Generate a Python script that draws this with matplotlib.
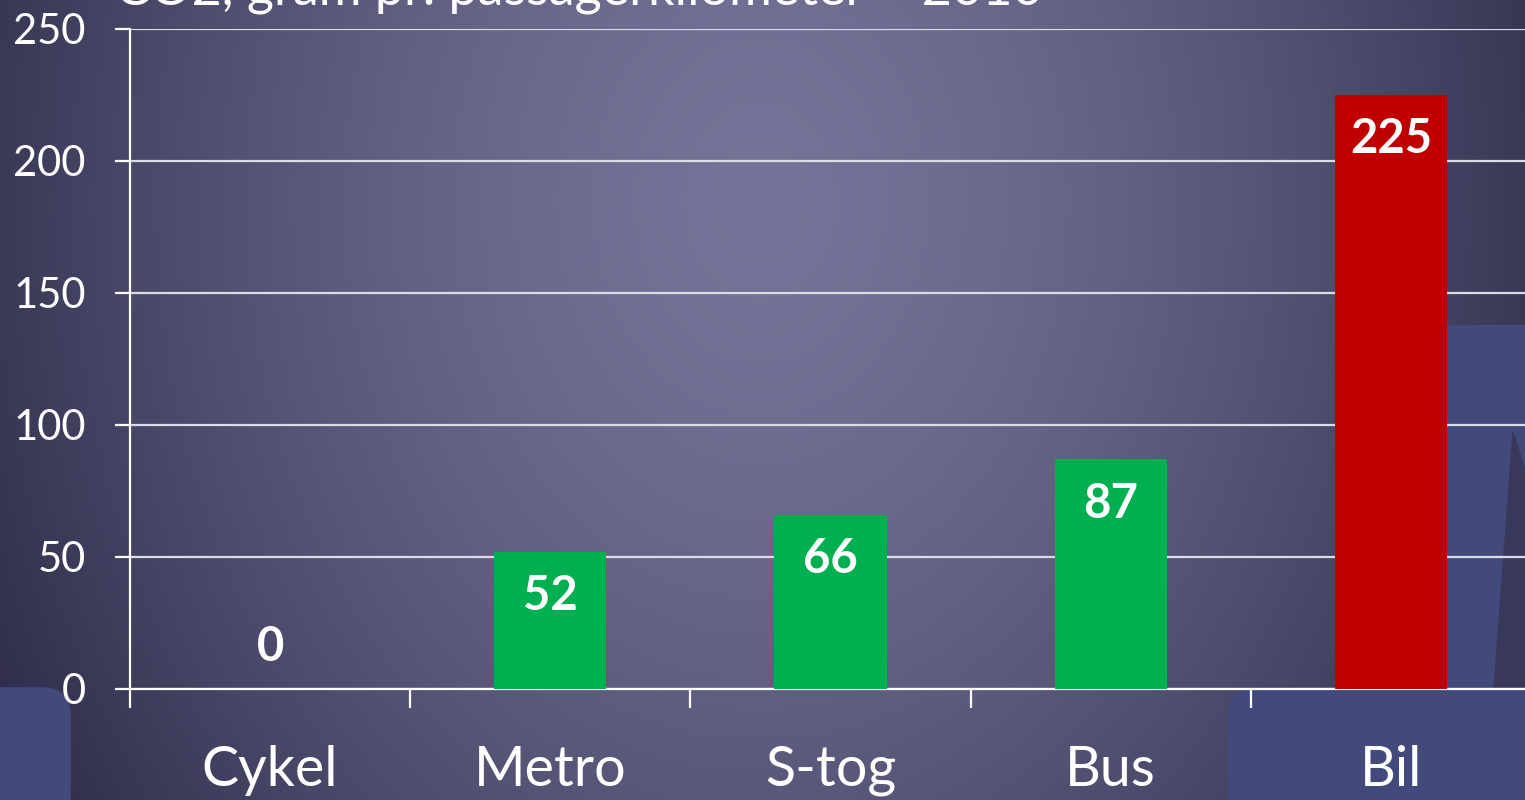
import numpy as np
import matplotlib
matplotlib.use("Agg")
from matplotlib import pyplot as plt
from matplotlib.patches import FancyBboxPatch, Polygon, Rectangle

plt.rcParams["font.family"] = ["Lato", "DejaVu Sans"]

categories = ["Cykel", "Metro", "S-tog", "Bus", "Bil"]
co2 = [0, 52, 66, 87, 225]
bar_colors = ["#00b050", "#00b050", "#00b050", "#00b050", "#c00000"]
title = "CO2, gram pr. passagerkilometer – 2010"

W, H = 1525, 800
fig = plt.figure(figsize=(W / 100, H / 100), dpi=100)

# background: radial purple gradient + blue slide shapes
bg = fig.add_axes([0, 0, 1, 1], zorder=0)
yy, xx = np.mgrid[0:H, 0:W]
d = np.sqrt(((xx - 760) / 850) ** 2 + ((yy - 200) / 1100) ** 2)
t = np.clip(d, 0, 1.2) ** 1.5
light = np.array([117, 116, 152]) / 255
dark = np.array([48, 46, 76]) / 255
img = light[None, None, :] * (1 - t[..., None]) + dark[None, None, :] * t[..., None]
img = np.clip(img, 0, 1)
bg.imshow(img, extent=[0, W, H, 0], aspect="auto")
bg.set_xlim(0, W)
bg.set_ylim(H, 0)
bg.axis("off")
panel = "#424a7c"
bg.add_patch(Rectangle((1440, 325), 100, 400, color=panel))
bg.add_patch(Polygon([(1513, 432), (1494, 690), (1525, 690), (1525, 470)],
                     color="#38385a"))
bg.add_patch(FancyBboxPatch((-60, 688), 130, 200, boxstyle="round,pad=0,rounding_size=28",
                            color=panel))
bg.add_patch(FancyBboxPatch((1229, 688), 400, 200, boxstyle="round,pad=0,rounding_size=26",
                            color=panel))

fig.text(115 / W, 1 - 5 / H, title, color="white", fontsize=37.5, va="baseline", ha="left")

ax = fig.add_axes([130 / W, (H - 689) / H, 1401 / W, 660 / H], zorder=1)
ax.set_facecolor("none")
x = np.arange(len(categories))
bars = ax.bar(x, co2, width=0.4, color=bar_colors, zorder=3)
ax.set_xlim(-0.5, len(categories) - 0.5)
ax.set_ylim(0, 250)
ax.set_yticks([0, 50, 100, 150, 200, 250])
ax.yaxis.grid(True, color="#dcdce6", lw=1.6, zorder=1)
ax.set_axisbelow(True)

ax.set_xticks(np.arange(len(categories) + 1) - 0.5)
ax.set_xticklabels([])
ax.set_xticks(x, minor=True)
ax.set_xticklabels(categories, minor=True)
ax.tick_params(axis="x", which="major", length=14, width=1.6, color="white", direction="out")
ax.tick_params(axis="x", which="minor", length=0, pad=40, labelsize=40, labelcolor="white")
ax.tick_params(axis="y", length=11, width=1.6, color="white", pad=21,
               labelsize=30, labelcolor="white")

for s in ["top", "right"]:
    ax.spines[s].set_visible(False)
for s in ["left", "bottom"]:
    ax.spines[s].set_color("white")
    ax.spines[s].set_linewidth(1.6)
ax.spines["left"].set_bounds(0, 250)

for xi, v in zip(x, co2):
    off = -32 if v > 0 else 30
    ax.annotate(str(v), (xi, v), xytext=(0, off), textcoords="offset points",
                ha="center", va="center", color="white", fontsize=34,
                fontweight="bold", zorder=4)

fig.savefig("out.png", dpi=100)
